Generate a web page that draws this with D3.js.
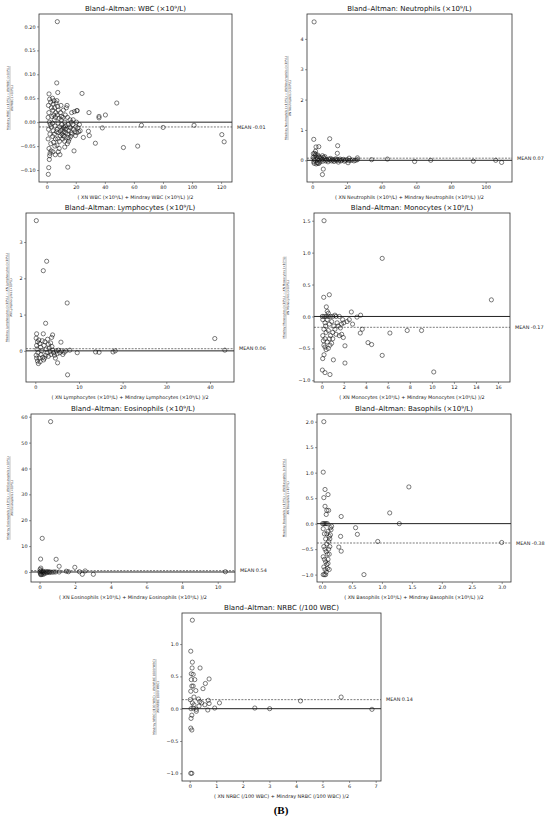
<!DOCTYPE html>
<html>
<head>
<meta charset="utf-8">
<script src="https://cdn.jsdelivr.net/npm/d3@7"></script>
<style>
  body { margin: 0; background: #fff; }
  svg { display: block; font-family: "DejaVu Sans", sans-serif; }
</style>
</head>
<body>
<svg id="chart" width="550" height="822"></svg>
<script>
// analytes, in drawing order
const analytes = ['WBC', 'Neutrophils', 'Lymphocytes', 'Monocytes', 'Eosinophils', 'Basophils', 'NRBC'];
const units = ['(×10⁹/L)', '(×10⁹/L)', '(×10⁹/L)', '(×10⁹/L)', '(×10⁹/L)', '(×10⁹/L)', '(/100 WBC)'];
const meanBias = [-0.01, 0.07, 0.06, -0.17, 0.54, -0.38, 0.14];

// [ average of both analysers, relative difference ]
const wbcPoints = [
  [7.3,0.21],[6.9,0.082],[7.6,0.062],[24.3,0.060],[1.6,0.059],[48.2,0.040],[20.7,0.024],[29.1,0.020],
  [40.4,0.015],[36.0,0.012],[36.0,0.009],[65.2,-0.0065],[80.1,-0.011],[101.4,-0.0065],[38.3,-0.012],
  [28.7,-0.019],[29.3,-0.028],[25.2,-0.032],[33.5,-0.044],[52.8,-0.053],[62.6,-0.050],[120.5,-0.026],
  [122.1,-0.041],[18.8,-0.060],[14.5,-0.094],[1.4,-0.095],[1.1,-0.109],[1.8,-0.078],[12.4,-0.052],
  [1.2,0.035],[1.5,0.02],[2.0,0.048],[1.0,0.01],[1.8,0.0],[2.5,-0.005],[1.3,-0.015],[2.2,-0.025],
  [1.0,-0.035],[2.8,-0.045],[1.6,-0.055],[2.3,-0.065],[3.0,-0.06],[2.0,-0.07],[3.2,0.03],[3.5,0.012],
  [3.0,-0.01],[2.7,0.042],[4.0,0.05],[4.5,0.038],[5.0,0.045],[4.2,0.025],[5.5,0.03],[4.8,0.015],
  [5.2,0.005],[4.0,-0.002],[5.8,-0.008],[4.5,-0.018],[5.3,-0.025],[4.1,-0.03],[6.0,-0.035],[4.7,-0.042],
  [5.6,-0.05],[4.3,-0.062],[5.9,-0.068],[6.2,0.02],[6.5,0.04],[6.0,0.01],[7.0,0.045],[7.5,0.033],
  [8.0,0.025],[7.2,0.015],[8.5,0.008],[7.8,-0.002],[9.0,-0.01],[7.3,-0.015],[8.2,-0.022],[9.3,-0.028],
  [7.6,-0.035],[8.8,-0.04],[7.1,-0.048],[8.0,-0.062],[9.1,-0.068],[8.6,-0.055],[9.5,0.02],[9.8,0.035],
  [10.0,0.005],[10.3,-0.005],[10.8,-0.015],[11.2,0.01],[11.5,0.025],[10.5,-0.025],[11.8,-0.02],
  [12.0,-0.03],[12.5,0.0],[12.8,0.015],[13.0,-0.008],[11.0,-0.035],[13.2,-0.022],[12.3,-0.04],
  [13.5,0.03],[10.1,0.012],[11.6,-0.01],[12.9,-0.015],[14.0,0.035],[14.3,0.01],[14.8,-0.005],
  [15.2,-0.018],[14.5,-0.025],[15.5,-0.035],[16.0,0.005],[16.3,-0.012],[16.8,-0.022],[15.0,-0.04],
  [14.2,-0.045],[17.0,0.0],[17.2,0.02],[15.8,-0.01],[18.0,-0.005],[18.5,-0.015],[19.0,0.022],
  [19.5,-0.02],[20.0,-0.01],[20.5,0.0],[21.0,0.024],[21.5,-0.012],[22.0,-0.02],[22.5,-0.005],
  [23.0,-0.018],[18.2,0.005],[19.8,-0.028],[17.5,-0.025],[6.8,-0.02],[9.6,-0.018],[12.0,-0.012],
  [16.5,-0.03],[20.8,-0.022],[11.3,-0.028],[14.6,-0.032]
];
const neutPoints = [
  [1.0,4.56],[0.8,0.69],[10.0,0.71],[2.1,0.44],[3.7,0.45],[14.6,0.48],[14.4,0.23],[1.3,0.23],
  [6.3,-0.29],[5.8,-0.47],[3.3,-0.10],[20.6,-0.08],[34.2,0.02],[43.3,0.04],[59.0,-0.04],[68.3,0.0],
  [92.9,-0.03],[105.8,0.0],[109.2,-0.07],[21.2,0.07],[26.0,0.08],
  [0.5,0.1],[1,0.05],[1.5,0.15],[2,0.2],[0.8,-0.05],[1.2,0.0],[2.5,0.1],[3,0.05],[2.8,-0.08],
  [3.5,0.12],[4,0.0],[4.5,-0.05],[5,0.08],[5.5,0.02],[6,-0.03],[6.5,0.1],[7,0.05],[7.5,-0.02],
  [8,0.03],[8.5,0.0],[9,-0.05],[9.5,0.04],[10,0.01],[10.5,0.06],[11,-0.02],[11.5,0.03],[12,0.0],
  [12.5,-0.04],[13,0.02],[13.5,0.05],[14,-0.01],[14.5,0.03],[15,-0.06],[15.5,0.0],[16,0.04],
  [16.5,-0.02],[17,0.01],[18,0.03],[18.5,-0.03],[19,0.0],[20,0.02],[21,-0.01],[22,0.0],[23,0.01],
  [24,-0.02],[25,0.0],[26,0.02],[1.8,0.3],[0.6,0.22],[2.2,-0.12],[3.2,0.17],[4.2,0.1],[1.0,-0.1],
  [5.8,0.15],[7.2,0.12],[3.8,-0.1]
];
const lymphPoints = [
  [0.23,3.59],[2.6,2.47],[1.83,2.21],[7.3,1.32],[2.36,0.76],[0.3,0.47],[1.83,0.47],[3.96,0.44],
  [3.73,0.37],[5.87,0.24],[41.1,0.34],[43.4,0.02],[7.39,-0.66],[5.1,-0.33],[9.6,-0.05],[13.8,-0.03],
  [14.6,-0.04],[17.8,-0.03],[18.3,0.0],[7.9,0.02],
  [0.2,0.35],[0.5,0.25],[0.3,0.15],[0.8,0.3],[1.0,0.2],[0.4,0.05],[0.6,-0.05],[0.2,-0.12],[0.9,-0.2],
  [0.5,-0.28],[0.7,-0.35],[1.2,0.1],[1.5,0.0],[1.3,-0.1],[1.7,-0.18],[1.9,-0.25],[2.0,0.15],[2.2,0.25],
  [2.5,0.05],[2.7,-0.05],[2.4,-0.12],[3.0,0.18],[3.2,0.08],[3.4,-0.02],[3.6,-0.1],[3.0,-0.15],
  [3.8,0.12],[4.0,0.02],[4.2,-0.05],[4.4,-0.12],[4.6,-0.2],[4.8,0.0],[5.0,-0.08],[5.3,0.02],
  [5.6,-0.05],[6.0,0.0],[6.3,-0.1],[6.6,-0.04],[7.0,0.0],[2.8,0.32],[1.1,-0.3],[1.6,0.28],[0.3,-0.2],
  [2.1,-0.2],[3.5,0.22]
];
const monoPoints = [
  [0.21,1.5],[5.49,0.91],[15.4,0.26],[0.18,0.30],[0.69,0.34],[0.42,0.15],[2.69,0.07],[3.53,0.02],
  [3.2,-0.01],[3.68,-0.2],[3.5,-0.26],[6.19,-0.26],[7.76,-0.22],[9.06,-0.22],[4.2,-0.41],[4.53,-0.44],
  [5.49,-0.61],[2.11,-0.46],[2.11,-0.73],[1.06,-0.68],[1.96,-0.33],[1.81,-0.28],[0.06,-0.84],
  [0.3,-0.88],[0.75,-0.91],[10.17,-0.87],[0.09,-0.66],[0.21,-0.6],[0.3,-0.48],
  [0.05,0.0],[0.2,0.0],[0.4,0.0],[0.6,0.0],[0.8,0.0],[1.0,0.0],[1.3,0.0],[1.6,0.0],[0.1,-0.05],
  [0.3,-0.1],[0.5,-0.05],[0.7,-0.12],[0.9,-0.08],[1.1,-0.15],[1.4,-0.1],[1.7,-0.18],[0.2,-0.2],
  [0.4,-0.25],[0.6,-0.22],[0.8,-0.3],[1.0,-0.25],[1.2,-0.2],[0.1,-0.3],[0.3,-0.35],[0.5,-0.4],
  [0.7,-0.35],[0.9,-0.42],[0.2,-0.45],[0.6,-0.5],[0.4,-0.52],[1.5,-0.15],[1.8,-0.12],[2.0,-0.1],
  [2.3,-0.08],[2.5,-0.05],[2.8,-0.12],[1.9,-0.05],[0.5,0.08],[0.6,0.05],[1.2,0.02],[0.35,-0.15],
  [0.75,-0.45],[1.0,-0.35],[0.15,-0.38],[1.3,-0.28],[1.6,-0.3]
];
const eosPoints = [
  [0.62,58.1],[0.15,13.0],[0.06,5.0],[0.93,4.9],[1.1,2.2],[1.98,1.8],[0.07,1.5],[1.62,0.1],[1.5,0.3],
  [2.4,-0.9],[2.24,0.1],[2.56,0.4],[3.02,-0.9],[10.43,0.1],
  [0.02,0.0],[0.05,-0.5],[0.08,0.5],[0.1,-1.0],[0.12,0.0],[0.15,-0.8],[0.18,0.3],[0.2,-0.2],
  [0.25,0.0],[0.3,-0.5],[0.35,0.2],[0.4,-0.3],[0.45,0.0],[0.5,0.1],[0.55,-0.2],[0.6,0.0],[0.7,-0.1],
  [0.8,0.0],[0.9,0.0],[1.1,0.0],[0.03,1.0],[0.06,-1.0],[0.22,-0.9]
];
const basoPoints = [
  [0.03,2.0],[0.02,1.01],[0.05,0.67],[0.1,0.57],[0.03,0.51],[0.05,0.34],[0.08,0.26],[0.11,0.26],
  [0.07,0.18],[0.32,0.14],[1.45,0.72],[1.13,0.21],[1.29,0.0],[0.56,-0.08],[0.59,-0.21],[0.31,-0.25],
  [0.93,-0.35],[3.0,-0.37],[0.28,-0.46],[0.32,-0.54],[0.7,-1.0],
  [0.01,0],[0.03,0],[0.05,0],[0.07,0],[0.09,0],
  [0.02,-0.1],[0.04,-0.2],[0.06,-0.3],[0.08,-0.4],[0.1,-0.15],[0.12,-0.25],[0.14,-0.08],[0.16,-0.05],
  [0.03,-0.45],[0.05,-0.5],[0.07,-0.55],[0.09,-0.6],[0.11,-0.35],[0.13,-0.45],[0.02,-0.65],[0.04,-0.7],
  [0.06,-0.75],[0.08,-0.8],[0.1,-0.7],[0.12,-0.6],[0.03,-0.85],[0.05,-0.9],[0.07,-0.95],[0.09,-0.88],
  [0.02,-1.0],[0.04,-1.0],[0.06,-1.0],[0.14,-0.22],[0.15,-0.12],[0.11,-0.5],[0.13,-0.3],[0.08,-0.2],
  [0.1,-0.78],[0.12,-0.9]
];
const nrbcPoints = [
  [0.1,1.37],[0.04,0.89],[0.1,0.72],[0.09,0.63],[0.39,0.63],[0.06,0.54],[0.13,0.53],[0.73,0.46],
  [0.59,0.39],[0.5,0.31],[0.06,0.45],[0.19,0.45],[0.08,0.35],[0.13,0.35],[0.04,0.27],[0.23,0.28],
  [0.16,0.18],[0.33,0.15],[0.38,0.11],[0.45,0.09],[0.7,0.13],[0.73,0.08],[1.12,0.09],[0.94,0.01],
  [0.68,-0.02],[2.45,0.01],[3.01,0.0],[4.17,0.12],[5.7,0.18],[6.86,-0.01],[0.05,0.0],[0.13,0.01],
  [0.25,-0.01],[0.08,-0.1],[0.05,-0.15],[0.04,-0.3],[0.08,-0.33],[0.04,-1.0],[0.08,-1.0],
  [0.25,-0.04],[0.35,0.04],[0.57,0.06],[0.02,0.14],[0.1,0.09],[0.16,0.06]
];
const allPoints = [wbcPoints, neutPoints, lymphPoints, monoPoints, eosPoints, basoPoints, nrbcPoints];

// tick values
const xTicks = [
  [0,20,40,60,80,100,120], [0,20,40,60,80,100], [0,10,20,30,40], [0,2,4,6,8,10,12,14,16],
  [0,2,4,6,8,10], [0,0.5,1,1.5,2,2.5,3], [0,1,2,3,4,5,6,7]
];
const yTicks = [
  [-0.10,-0.05,0,0.05,0.10,0.15,0.20], [0,1,2,3,4], [0,1,2,3], [-1,-0.5,0,0.5,1,1.5],
  [0,10,20,30,40,50,60], [-1,-0.5,0,0.5,1,1.5,2], [-1,-0.5,0,0.5,1]
];
const xFormats = ['d','d','d','d','d','.1f','d'];
const yFormats = ['.2f','d','d','.1f','d','.1f','.1f'];

// layout of each panel box (pixels) and axis ranges
const layout = [
  {left: 39, right: 232, top: 14, bottom: 182, xd: [-5.3, 127.5], yd: [-0.125, 0.226], yl: -29},
  {left: 307, right: 512, top: 14, bottom: 182, xd: [-3.1, 115.2], yd: [-0.715, 4.82], yl: -19},
  {left: 26, right: 234, top: 213, bottom: 382, xd: [-2.13, 45.5], yd: [-0.858, 3.80], yl: -17},
  {left: 314, right: 510, top: 213, bottom: 382, xd: [-0.70, 17.09], yd: [-1.027, 1.621], yl: -28},
  {left: 31, right: 235, top: 414, bottom: 582, xd: [-0.48, 10.97], yd: [-3.87, 61.05], yl: -21},
  {left: 317, right: 511, top: 414, bottom: 582, xd: [-0.084, 3.155], yd: [-1.145, 2.151], yl: -31},
  {left: 182, right: 381, top: 613, bottom: 781, xd: [-0.29, 7.20], yd: [-1.119, 1.481], yl: -26}
];

const svg = d3.select('#chart');

function drawPanel(i) {
  const L = layout[i];
  const name = analytes[i], unit = units[i];
  const x = d3.scaleLinear().domain(L.xd).range([L.left, L.right]);
  const y = d3.scaleLinear().domain(L.yd).range([L.bottom, L.top]);
  const g = svg.append('g');

  // title
  g.append('text')
    .attr('x', (L.left + L.right) / 2)
    .attr('y', L.top - 3)
    .attr('text-anchor', 'middle')
    .attr('font-size', 7)
    .attr('fill', '#111')
    .text('Bland–Altman: ' + name + ' ' + unit);

  // zero line + mean bias
  g.append('line')
    .attr('x1', L.left).attr('x2', L.right)
    .attr('y1', y(0)).attr('y2', y(0))
    .attr('stroke', '#222').attr('stroke-width', 1);
  g.append('line')
    .attr('x1', L.left).attr('x2', L.right)
    .attr('y1', y(meanBias[i])).attr('y2', y(meanBias[i]))
    .attr('stroke', '#222').attr('stroke-width', 0.6)
    .attr('stroke-dasharray', '2,1.3');
  g.append('text')
    .attr('x', L.right + 5)
    .attr('y', y(meanBias[i]) + 1.7)
    .attr('font-size', 4.9)
    .attr('fill', '#222')
    .text('MEAN ' + meanBias[i].toFixed(2));

  // points
  g.append('g').selectAll('circle')
    .data(allPoints[i])
    .join('circle')
    .attr('cx', d => x(d[0]))
    .attr('cy', d => y(d[1]))
    .attr('r', 2.1)
    .attr('fill', 'none')
    .attr('stroke', '#111')
    .attr('stroke-width', 0.55);

  // axes
  const xa = g.append('g')
    .attr('transform', `translate(0,${L.bottom})`)
    .call(d3.axisBottom(x).tickValues(xTicks[i]).tickFormat(d3.format(xFormats[i])).tickSize(2).tickPadding(1.5));
  const ya = g.append('g')
    .attr('transform', `translate(${L.left},0)`)
    .call(d3.axisLeft(y).tickValues(yTicks[i]).tickFormat(d3.format(yFormats[i])).tickSize(2).tickPadding(1.5));
  [xa, ya].forEach(a => {
    a.attr('font-size', 4.9).attr('font-family', '"DejaVu Sans", sans-serif');
    a.select('.domain').remove();
    a.selectAll('line').attr('stroke', '#333').attr('stroke-width', 0.5);
    a.selectAll('text').attr('fill', '#222');
  });

  // frame
  g.append('rect')
    .attr('x', L.left).attr('y', L.top)
    .attr('width', L.right - L.left).attr('height', L.bottom - L.top)
    .attr('fill', 'none').attr('stroke', '#333').attr('stroke-width', 0.8);

  // x label
  g.append('text')
    .attr('x', (L.left + L.right) / 2)
    .attr('y', L.bottom + 17)
    .attr('text-anchor', 'middle')
    .attr('font-size', 4.9)
    .attr('fill', '#222')
    .text(`( XN ${name} ${unit} + Mindray ${name} ${unit} )/2`);

  // y label as a fraction
  const yl = g.append('g')
    .attr('transform', `translate(${L.left + L.yl},${(L.top + L.bottom) / 2}) rotate(-90)`);
  const num = yl.append('text')
    .attr('y', -0.8)
    .attr('text-anchor', 'middle')
    .attr('font-size', 3)
    .attr('fill', '#333')
    .text(`Mindray ${name} ${unit} − XN ${name} ${unit}`);
  const w = num.node().getComputedTextLength();
  yl.append('line')
    .attr('x1', -w / 2).attr('x2', w / 2)
    .attr('stroke', '#333').attr('stroke-width', 0.3);
  yl.append('text')
    .attr('y', 3)
    .attr('text-anchor', 'middle')
    .attr('font-size', 3)
    .attr('fill', '#333')
    .text(`XN ${name} ${unit}`);
}

analytes.forEach((a, i) => drawPanel(i));

// figure tag
svg.append('text')
  .attr('x', 281)
  .attr('y', 814)
  .attr('text-anchor', 'middle')
  .attr('font-family', '"Liberation Serif", serif')
  .attr('font-weight', 'bold')
  .attr('font-size', 11)
  .text('(B)');
</script>
</body>
</html>
